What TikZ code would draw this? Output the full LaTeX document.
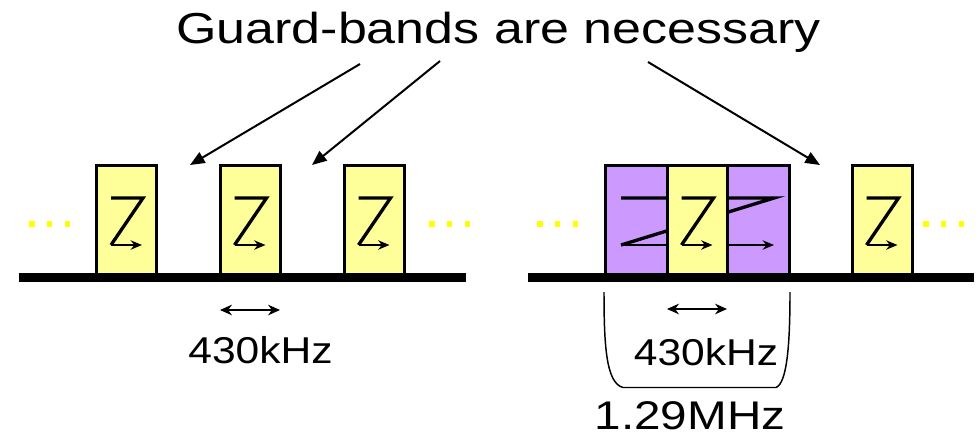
\documentclass[tikz,border=0pt]{standalone}
\usepackage{fontspec}
\setmainfont{Liberation Sans}
\usetikzlibrary{arrows.meta}
\definecolor{chanyellow}{HTML}{FFFF99}
\definecolor{chanpurple}{HTML}{CC99FF}
\definecolor{dotyellow}{HTML}{FFFF00}
\tikzset{
  ybox/.style={draw=black, line width=2.25pt, fill=chanyellow, minimum width=45pt,
               minimum height=82.5pt, inner sep=0pt, outer sep=0pt},
  pbox/.style={draw=black, line width=2.25pt, fill=chanpurple, minimum width=138pt,
               minimum height=82.5pt, inner sep=0pt, outer sep=0pt},
  zline/.style={line width=2.5pt, line join=miter},
  zarrow/.style={line width=1.6pt, -{Stealth[length=8.5pt,width=7pt]}},
  pointer/.style={line width=1.5pt, -{Triangle[length=11pt,width=9pt]}},
  spacing/.style={line width=1pt, {Stealth[length=9pt,width=8pt]}-{Stealth[length=9pt,width=8pt]}},
  axisbar/.style={fill=black},
  dot/.style={fill=dotyellow},
  lbl/.style={inner sep=0pt, anchor=base},
}
% small Z-shaped marker inside a channel box (relative to its centre)
\newcommand\zsymbol[1]{%
  \begin{scope}[shift={(#1.center)}]
    \draw[zline] (-15.5,-22.75) -- (16.5,-22.75) -- (-15.5,24.25);
    \draw[zarrow] (-15.5,24.25) -- (15.5,24.25);
  \end{scope}}
% row of three yellow dots starting at the given x
\newcommand\dotrow[1]{%
  \foreach \k in {0,1,2}{\fill[dot] ({#1+\k*17.8-2.6},221.4) rectangle ++(5.2,5.2);}}
\begin{document}
\begin{tikzpicture}[x=0.75pt,y=-0.75pt]
\useasboundingbox (0,0) rectangle (980,433);

% title
\node[lbl] (title) at (498.5,43.5)
  {\fontsize{32.5}{39}\selectfont\scalebox{1.2}[1]{Guard-bands are necessary}};

% left spectrum: three separated channels
\node[ybox] (b1) at (126.5,220.75) {};
\node[ybox] (b2) at (250,220.75) {};
\node[ybox] (b3) at (374,220.75) {};
\zsymbol{b1}\zsymbol{b2}\zsymbol{b3}
\fill[axisbar] (19,272.5) rectangle (466,281.5);
\dotrow{32}\dotrow{432}

% right spectrum: overlapping channels
\node[pbox] (pb) at (697.5,220.75) {};
\begin{scope}[shift={(pb.center)}]
  \draw[zline] (-76.5,-22.75) -- (76.5,-22.75) -- (-76.5,24.25);
  \draw[zarrow] (-76.5,24.25) -- (76.5,24.25);
\end{scope}
\node[ybox] (b4) at (697,220.75) {};
\zsymbol{b4}
\node[ybox] (b5) at (882,220.75) {};
\zsymbol{b5}
\fill[axisbar] (528,272.5) rectangle (974,281.5);
\dotrow{540}\dotrow{926}

% pointers from the title to the gaps
\coordinate (s1) at (360,64);
\coordinate (s2) at (440,61);
\coordinate (s3) at (648,62);
\coordinate (g1) at (190,165);
\coordinate (g2) at (312,165);
\coordinate (g3) at (820,165);
\draw[pointer] (s1) -- (g1);
\draw[pointer] (s2) -- (g2);
\draw[pointer] (s3) -- (g3);

% channel spacing
\coordinate (l1) at (220,310); \coordinate (l2) at (280,310);
\draw[spacing] (l1) -- (l2);
\node[lbl] (f1) at (260.5,363.3) {\fontsize{28}{34}\selectfont\scalebox{1.14}[1]{430kHz}};
\coordinate (r1) at (667,309); \coordinate (r2) at (727,309);
\draw[spacing] (r1) -- (r2);
\node[lbl] (f2) at (706,365) {\fontsize{28}{34}\selectfont\scalebox{1.14}[1]{430kHz}};

% bracket under the overlapping group
\draw[line width=1.1pt] (604,292) .. controls (604,345) and (606,383) .. (623,387.5)
  -- (776,387.5) .. controls (787,383) and (790,345) .. (790,292);
\node[lbl] (f3) at (690,429) {\fontsize{30}{36}\selectfont\scalebox{1.19}[1]{1.29MHz}};
\end{tikzpicture}
\end{document}
